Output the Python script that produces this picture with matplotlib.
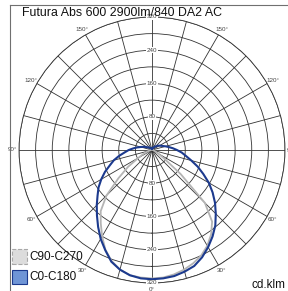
import numpy as np
import matplotlib
matplotlib.use('Agg')
import matplotlib.pyplot as plt
from matplotlib.patches import Rectangle
from matplotlib.lines import Line2D

plt.rcParams['font.family'] = ['Liberation Sans', 'DejaVu Sans']

# gamma angles (degrees from nadir)
angles = [0, 5, 10, 15, 20, 25, 30, 35, 40, 45, 50, 55, 60, 65, 70, 75, 80, 85, 90,
          95, 100, 105, 110, 115, 120, 125, 130, 135, 140, 145, 150, 155, 160, 165, 170, 175, 180]

# C0-C180 plane (blue): right half / left half, cd/klm
c0_right = [311, 310, 308, 303, 297, 285, 270, 254, 237, 217, 198, 178, 158, 136, 117, 98, 83, 72, 60,
            50, 41, 34, 28, 24, 21, 18, 15, 12, 10, 8, 7, 6, 5, 4, 4, 3, 3]
c180_left = [311, 310, 306, 298, 286, 266, 247, 226, 206, 188, 171, 157, 141, 125, 108, 95, 80, 66, 56,
             45, 36, 28, 22, 17, 13, 11, 9, 8, 7, 6, 5, 4, 4, 3, 3, 3, 3]

# C90-C270 plane (grey): right half / left half, cd/klm
c90_right = [309, 308, 304, 298, 290, 280, 266, 248, 225, 180, 90, 35, 18, 10, 6, 4, 3, 2, 2,
             2, 2, 2, 2, 2, 2, 2, 2, 2, 2, 2, 2, 2, 2, 2, 2, 2, 2]
c270_left = [309, 308, 306, 298, 284, 265, 240, 215, 192, 155, 105, 70, 38, 24, 14, 8, 5, 3, 2,
             2, 2, 2, 2, 2, 2, 2, 2, 2, 2, 2, 2, 2, 2, 2, 2, 2, 2]

ring_values = [40, 80, 120, 160, 200, 240, 280, 320]
ring_labels = [80, 160, 240, 320]
angle_labels = [0, 30, 60, 90, 120, 150]
title = "Futura Abs 600 2900lm/840 DA2 AC"
legend_labels = ["C90-C270", "C0-C180"]
unit_label = "cd.klm"

W, H = 288, 291
fig = plt.figure(figsize=(W / 100, H / 100), dpi=100)
cx, cy, R = 152, 150, 133
ax = fig.add_axes([(cx - R) / W, (H - cy - R) / H, 2 * R / W, 2 * R / H], projection='polar')
ax.set_theta_zero_location('S')
ax.set_theta_direction(1)
ax.set_ylim(0, 320)
ax.set_rticks(ring_values)
ax.set_thetagrids(np.arange(0, 360, 15))
ax.set_xticklabels([])
ax.set_yticklabels([])
ax.grid(True, color='#333333', lw=0.6)
ax.spines['polar'].set_color('#333333')
ax.spines['polar'].set_linewidth(0.6)
ax.set_facecolor('white')

th = np.radians(angles)

def full_curve(right, left):
    t = np.concatenate([-th[::-1], th[1:]])
    r = np.concatenate([np.array(left)[::-1], np.array(right)[1:]])
    return t, r

t, r = full_curve(c90_right, c270_left)
ax.plot(t, r, color='#b4b4b4', lw=1.3, zorder=3)
t, r = full_curve(c0_right, c180_left)
ax.plot(t, r, color='#1c3a8e', lw=1.5, zorder=4)

# ring labels along vertical axis
for v in ring_labels:
    for a in (0, 180):
        ax.text(np.radians(a), v, str(v), fontsize=4.5, color='#444444',
                ha='center', va='center', zorder=5,
                bbox=dict(facecolor='white', edgecolor='none', pad=0.3))

# angle labels
for a in angle_labels:
    for s in ((1, -1) if a != 0 else (1,)):
        ax.text(np.radians(s * a), 335, f"{a}°", fontsize=4.5, color='#444444',
                ha='center', va='center', clip_on=False, zorder=5)

# frame lines
fig.add_artist(Line2D([9.5 / W, 9.5 / W], [0, 1 - 5 / H], transform=fig.transFigure,
                      color='#707070', lw=0.8))
fig.add_artist(Line2D([9.5 / W, 1], [1 - 5 / H, 1 - 5 / H], transform=fig.transFigure,
                      color='#707070', lw=0.8))

# title
fig.text(22 / W, 1 - 13 / H, title, fontsize=8.9, ha='left', va='center', color='#111111', zorder=10)

# legend
fig.add_artist(Rectangle((12 / W, 1 - 264 / H), 15 / W, 15 / H, transform=fig.transFigure,
                         facecolor='#dcdcdc', edgecolor='#a8a8a8', lw=0.8, ls='--'))
fig.add_artist(Rectangle((12 / W, 1 - 284 / H), 15 / W, 14 / H, transform=fig.transFigure,
                         facecolor='#6f95d6', edgecolor='#1c3a8e', lw=0.8))
fig.text(29 / W, 1 - 256.5 / H, legend_labels[0], fontsize=8.5, ha='left', va='center', color='#111111')
fig.text(29 / W, 1 - 277 / H, legend_labels[1], fontsize=8.5, ha='left', va='center', color='#111111')

fig.text(286 / W, 1 - 285 / H, unit_label, fontsize=8.5, ha='right', va='center', color='#111111')

fig.savefig('out.png', dpi=100)
